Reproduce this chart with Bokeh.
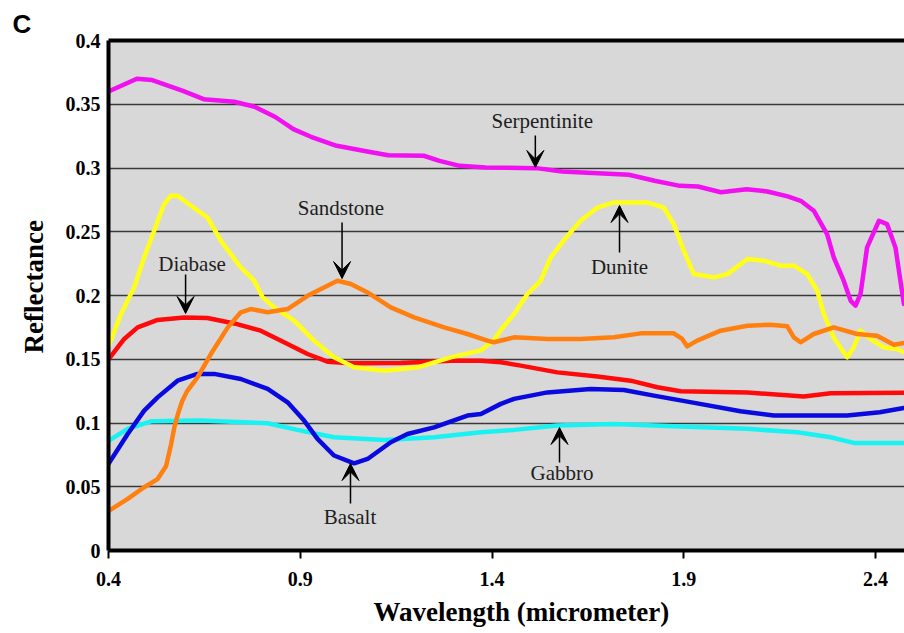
from bokeh.plotting import figure
from bokeh.models import Range1d, FixedTicker, LinearAxis, Label, Arrow, VeeHead, Title
from bokeh.embed import file_html
from bokeh.resources import INLINE

# ---------------- data (wavelength in micrometer, reflectance) ----------------
x_ticks = [0.4, 0.9, 1.4, 1.9, 2.4]
x_tick_labels = ["0.4", "0.9", "1.4", "1.9", "2.4"]
y_ticks = [0.0, 0.05, 0.1, 0.15, 0.2, 0.25, 0.3, 0.35, 0.4]
y_tick_labels = ["0", "0.05", "0.1", "0.15", "0.2", "0.25", "0.3", "0.35", "0.4"]

serp_wl = [0.40, 0.474, 0.514, 0.594, 0.648, 0.728, 0.781, 0.835, 0.882, 0.928,
           0.995, 1.075, 1.129, 1.222, 1.263, 1.316, 1.383, 1.516, 1.583, 1.757,
           1.824, 1.890, 1.937, 1.997, 2.064, 2.118, 2.171, 2.205, 2.239, 2.274,
           2.291, 2.317, 2.335, 2.348, 2.361, 2.378, 2.409, 2.430, 2.452, 2.474]
serp_r = [0.360, 0.370, 0.369, 0.3605, 0.354, 0.352, 0.348, 0.340, 0.3305, 0.3245,
          0.3174, 0.313, 0.310, 0.3096, 0.3056, 0.3017, 0.3004, 0.2999, 0.2973, 0.2947,
          0.290, 0.286, 0.2855, 0.281, 0.2834, 0.2816, 0.2777, 0.2743, 0.2665, 0.248,
          0.230, 0.2116, 0.196, 0.192, 0.2012, 0.2377, 0.2586, 0.256, 0.2377, 0.1933]

dun_wl = [0.40, 0.4326, 0.467, 0.493, 0.519, 0.545, 0.563, 0.580, 0.615, 0.658,
          0.693, 0.745, 0.780, 0.802, 0.832, 0.884, 0.936, 0.988, 1.0405, 1.119,
          1.206, 1.2925, 1.371, 1.405, 1.423, 1.4575, 1.492, 1.527, 1.553, 1.597,
          1.631, 1.675, 1.718, 1.805, 1.848, 1.874, 1.900, 1.9265, 1.979, 2.0135,
          2.066, 2.109, 2.152, 2.187, 2.222, 2.248, 2.265, 2.291, 2.326, 2.343,
          2.361, 2.387, 2.422, 2.457, 2.474]
dun_r = [0.160, 0.1855, 0.2064, 0.2299, 0.2508, 0.2717, 0.2782, 0.2782, 0.2704, 0.2612,
         0.2429, 0.222, 0.2116, 0.1985, 0.1907, 0.1803, 0.1646, 0.1515, 0.1437, 0.141,
         0.1437, 0.1515, 0.157, 0.165, 0.173, 0.1855, 0.201, 0.2116, 0.2299, 0.2469,
         0.2586, 0.269, 0.273, 0.273, 0.269, 0.256, 0.2351, 0.2168, 0.2142, 0.2168,
         0.2286, 0.2273, 0.2234, 0.2234, 0.2168, 0.2038, 0.1855, 0.167, 0.1515, 0.1593,
         0.1724, 0.1659, 0.1593, 0.158, 0.1554]

sand_wl = [0.40, 0.45, 0.493, 0.528, 0.550, 0.563, 0.572, 0.581, 0.592, 0.605,
           0.632, 0.667, 0.711, 0.745, 0.771, 0.815, 0.867, 0.919, 0.997, 1.032,
           1.0755, 1.136, 1.197, 1.275, 1.336, 1.388, 1.405, 1.4575, 1.5445, 1.631,
           1.718, 1.788, 1.874, 1.896, 1.909, 1.935, 1.996, 2.066, 2.1265, 2.170,
           2.187, 2.2045, 2.239, 2.291, 2.352, 2.404, 2.448, 2.474]
sand_r = [0.031, 0.0405, 0.0496, 0.056, 0.066, 0.083, 0.097, 0.107, 0.117, 0.125,
          0.1358, 0.1541, 0.175, 0.1868, 0.1894, 0.1868, 0.1894, 0.1998, 0.2116, 0.209,
          0.2024, 0.1907, 0.1828, 0.175, 0.1698, 0.1646, 0.1633, 0.1672, 0.1659, 0.1659,
          0.1672, 0.1703, 0.1703, 0.1659, 0.1601, 0.1646, 0.1724, 0.1763, 0.1771, 0.1758,
          0.1672, 0.1633, 0.1698, 0.175, 0.1698, 0.1685, 0.1614, 0.1628]

diab_wl = [0.40, 0.441, 0.476, 0.528, 0.5975, 0.658, 0.728, 0.797, 0.867, 0.919,
           0.971, 1.032, 1.162, 1.2925, 1.371, 1.423, 1.475, 1.5705, 1.675, 1.7615,
           1.831, 1.892, 2.066, 2.213, 2.283, 2.474]
diab_r = [0.150, 0.1659, 0.175, 0.1808, 0.1828, 0.1823, 0.1781, 0.1724, 0.162, 0.1541,
          0.1481, 0.1468, 0.1471, 0.1489, 0.1489, 0.1476, 0.145, 0.1397, 0.1364, 0.1332,
          0.128, 0.1249, 0.124, 0.1207, 0.1233, 0.1238]

bas_wl = [0.40, 0.45, 0.493, 0.528, 0.580, 0.632, 0.6755, 0.745, 0.815, 0.867,
          0.910, 0.945, 0.988, 1.0405, 1.0755, 1.136, 1.1795, 1.249, 1.336, 1.371,
          1.423, 1.4575, 1.5445, 1.657, 1.744, 1.822, 1.935, 2.048, 2.135, 2.326,
          2.411, 2.474]
bas_r = [0.068, 0.0914, 0.1097, 0.1201, 0.1332, 0.1385, 0.1385, 0.1345, 0.1267, 0.1162,
         0.1019, 0.0875, 0.0745, 0.0684, 0.0718, 0.0849, 0.0914, 0.0966, 0.1058, 0.1071,
         0.115, 0.1189, 0.124, 0.1267, 0.1259, 0.1215, 0.1154, 0.1092, 0.1058, 0.1058,
         0.1084, 0.1118]

gab_wl = [0.40, 0.45, 0.511, 0.641, 0.815, 0.9015, 0.988, 1.119, 1.249, 1.371,
          1.4575, 1.5705, 1.718, 1.892, 2.066, 2.196, 2.283, 2.343, 2.474]
gab_r = [0.086, 0.0954, 0.1013, 0.1019, 0.0998, 0.094, 0.0888, 0.0867, 0.0888, 0.0927,
         0.0946, 0.098, 0.0993, 0.0972, 0.0954, 0.0927, 0.0888, 0.0844, 0.0844]

# annotation anchors in data units: name, text centre (x, y), arrow start (x, y), arrow tip (x, y)
annotations = [
    ("Serpentinite", 1.531, 0.3365, 1.513, 0.3255, 1.513, 0.3004),
    ("Sandstone", 1.006, 0.269, 1.009, 0.2573, 1.009, 0.2133),
    ("Diabase", 0.618, 0.2247, 0.601, 0.2165, 0.601, 0.1859),
    ("Dunite", 1.7325, 0.2224, 1.7325, 0.2337, 1.7325, 0.2706),
    ("Gabbro", 1.5825, 0.0604, 1.576, 0.069, 1.576, 0.0965),
    ("Basalt", 1.0297, 0.0259, 1.031, 0.0369, 1.031, 0.0682),
]

# ---------------- figure ----------------
p = figure(width=904, height=633, output_backend="svg", toolbar_location=None,
           x_range=Range1d(0.4, 2.4756), y_range=Range1d(0.0, 0.4),
           min_border_left=108, min_border_right=0, min_border_top=40,
           min_border_bottom=83, title=None)
p.background_fill_color = "#d8d8d8"
p.border_fill_color = "white"
p.outline_line_color = None

p.xgrid.visible = False
p.ygrid.ticker = FixedTicker(ticks=y_ticks)
p.ygrid.grid_line_color = "#383838"
p.ygrid.grid_line_width = 1.5

serif = "Liberation Serif"

xa = p.xaxis[0]
xa.ticker = FixedTicker(ticks=x_ticks)
xa.major_label_overrides = dict(zip(x_ticks, x_tick_labels))
xa.axis_line_width = 4
xa.axis_line_color = "black"
xa.major_tick_in = 0
xa.major_tick_out = 8
xa.major_tick_line_width = 2
xa.major_tick_line_color = "black"
xa.minor_tick_line_color = None
xa.major_label_text_font = serif
xa.major_label_text_font_style = "bold"
xa.major_label_text_font_size = "20px"
xa.major_label_text_color = "black"
xa.major_label_standoff = 13

ya = p.yaxis[0]
ya.ticker = FixedTicker(ticks=y_ticks)
ya.major_label_overrides = dict(zip(y_ticks, y_tick_labels))
ya.axis_line_width = 4
ya.axis_line_color = "black"
ya.major_tick_in = 0
ya.major_tick_out = 0
ya.major_tick_line_color = None
ya.minor_tick_line_color = None
ya.major_label_text_font = serif
ya.major_label_text_font_style = "bold"
ya.major_label_text_font_size = "20px"
ya.major_label_text_color = "black"
ya.major_label_standoff = 8

top = LinearAxis(ticker=FixedTicker(ticks=[]), axis_line_width=4, axis_line_color="black",
                 major_tick_line_color=None, minor_tick_line_color=None,
                 major_tick_out=0, major_tick_in=0, major_label_standoff=0,
                 major_label_text_font_size="0px")
p.add_layout(top, "above")

lw = 4.5
p.line(gab_wl, gab_r, line_color="#19f2f2", line_width=lw, line_join="round", line_cap="round")
p.line(bas_wl, bas_r, line_color="#0a0ae0", line_width=lw, line_join="round", line_cap="round")
p.line(diab_wl, diab_r, line_color="#ff0a0a", line_width=lw, line_join="round", line_cap="round")
p.line(dun_wl, dun_r, line_color="#ffff1a", line_width=lw, line_join="round", line_cap="round")
p.line(sand_wl, sand_r, line_color="#ff8010", line_width=lw, line_join="round", line_cap="round")
p.line(serp_wl, serp_r, line_color="#f010f0", line_width=lw, line_join="round", line_cap="round")

for name, tx, ty, ax0, ay0, ax1, ay1 in annotations:
    p.add_layout(Label(x=tx, y=ty, text=name, text_font=serif, text_font_size="21px",
                       text_align="center", text_baseline="middle", text_color="#1e1e1e"))
    p.add_layout(Arrow(end=VeeHead(size=17, fill_color="black", line_color="black", line_width=1),
                       x_start=ax0, y_start=ay0, x_end=ax1, y_end=ay1,
                       line_width=1.5, line_color="black"))

# panel letter and axis titles
p.add_layout(Title(text="Wavelength (micrometer)", align="left", offset=265,
                   text_font=serif, text_font_style="bold", text_font_size="27px",
                   text_color="black", standoff=13), "below")
p.add_layout(Title(text="Reflectance", align="left", offset=197,
                   text_font=serif, text_font_style="bold", text_font_size="27px",
                   text_color="black", standoff=28), "left")
p.add_layout(Title(text="C", align="left", offset=-96,
                   text_font="Liberation Sans", text_font_style="bold", text_font_size="26px",
                   text_color="black", standoff=4), "above")

open("out.html", "w").write(file_html(p, INLINE))
